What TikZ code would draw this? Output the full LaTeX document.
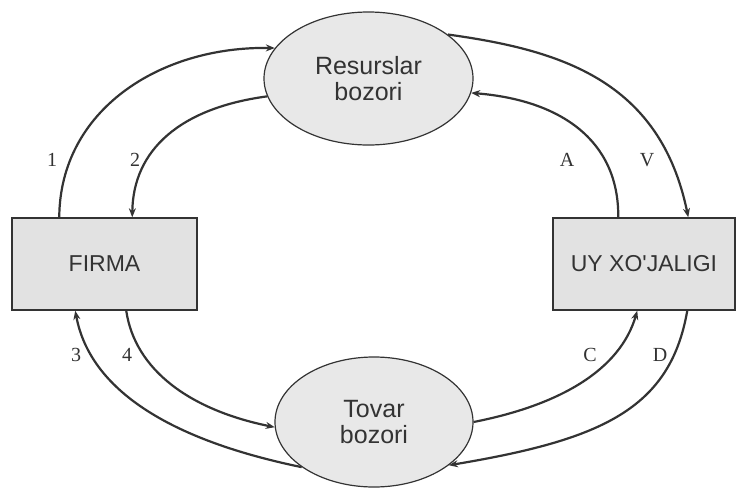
\documentclass[tikz,border=0pt]{standalone}
\usepackage{fontspec}
\setmainfont{Liberation Serif}
\newfontfamily\boxfont{Liberation Sans}
\usetikzlibrary{arrows.meta,shapes.geometric}
\definecolor{inkc}{HTML}{333333}
\definecolor{ellfill}{HTML}{E8E8E8}
\definecolor{boxfill}{HTML}{E2E2E2}
\begin{document}
\begin{tikzpicture}[x=1pt,y=-1pt,
  market/.style={ellipse,draw=inkc,line width=1.2pt,fill=ellfill,inner sep=0pt,
    align=center,text=inkc,font=\boxfont\fontsize{25}{26}\selectfont},
  agent/.style={rectangle,draw=inkc,line width=1.5pt,fill=boxfill,inner sep=0pt,
    minimum height=92pt,text=inkc,font=\boxfont\fontsize{23}{26}\selectfont},
  flow/.style={draw=inkc,line width=2.2pt,-{Stealth[length=9pt,width=7pt]}},
  lab/.style={text=inkc,font=\fontsize{20}{22}\selectfont,inner sep=0pt}]
\useasboundingbox (0,0) rectangle (737,488);
\fill[white] (0,0) rectangle (737,488);
% nodes
\node[market,minimum width=209pt,minimum height=133pt] (res) at (368.5,78.5) {Resurslar\\bozori};
\node[market,minimum width=198pt,minimum height=130pt] (tov) at (374,422) {Tovar\\bozori};
\node[agent,minimum width=185pt] (firma) at (104.5,264) {FIRMA};
\node[agent,minimum width=182pt] (uy) at (644,264) {UY XO'JALIGI};
% connectors
\draw[flow] ([xshift=48pt]firma.north west) .. controls (60,110) and (160,46) .. (res.162);
\draw[flow] (res.190.5) .. controls (180,108) and (133,150) .. ([xshift=121pt]firma.north west);
\draw[flow] ([xshift=66pt]uy.north west) .. controls (619,140) and (560,100) .. (res.-8);
\draw[flow] (res.29) .. controls (560,50) and (660,80) .. ([xshift=136pt]uy.north west);
\draw[flow] (tov.212) .. controls (170,440) and (90,390) .. ([xshift=64pt]firma.south west);
\draw[flow] ([xshift=115pt]firma.south west) .. controls (135,370) and (190,410) .. (tov.183);
\draw[flow] (tov.0) .. controls (560,405) and (620,370) .. ([xshift=85pt]uy.south west);
\draw[flow] ([xshift=135pt]uy.south west) .. controls (670,410) and (600,440) .. (tov.330);
% labels
\node[lab] (l1) at (52,160) {1};
\node[lab] (l2) at (135,160) {2};
\node[lab] (lA) at (567,160) {A};
\node[lab] (lV) at (647,160) {V};
\node[lab] (l3) at (76,355) {3};
\node[lab] (l4) at (127,355) {4};
\node[lab] (lC) at (590,355) {C};
\node[lab] (lD) at (660,355) {D};
\end{tikzpicture}
\end{document}
